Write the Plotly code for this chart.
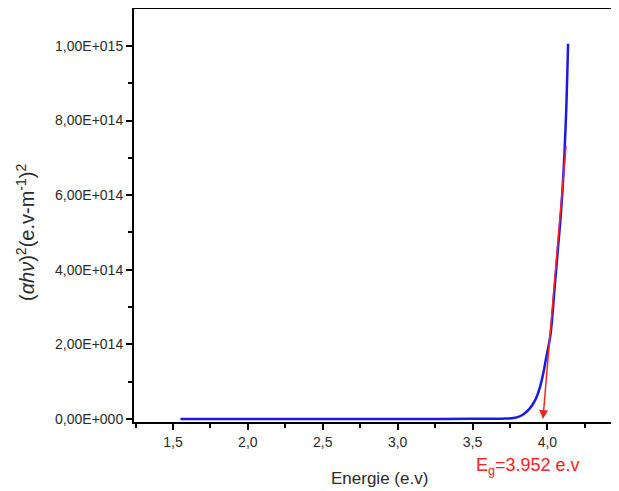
import plotly.graph_objects as go

# Data
energy = [1.55, 1.8, 2.0, 2.3, 2.6, 2.9, 3.2, 3.5, 3.7, 3.76, 3.80, 3.84, 3.88, 3.92, 3.95, 3.97,
          3.99, 4.02, 4.05, 4.07, 4.09, 4.11, 4.125, 4.138]
alpha_hv2 = [0.0, 0.0, 0.0, 0.0, 0.0, 0.0, 0.0, 0.001e15, 0.001e15, 0.002e15, 0.005e15, 0.013e15,
             0.027e15, 0.052e15, 0.085e15, 0.118e15, 0.16e15, 0.225e15, 0.36e15, 0.455e15,
             0.55e15, 0.68e15, 0.82e15, 1.006e15]

fit_x = [4.125, 3.97]
fit_y = [7.36e14, 0.0]
band_gap = 3.952

x_range = [1.24, 4.478]
x_ticks = [1.5, 2.0, 2.5, 3.0, 3.5, 4.0, 4.5]
x_ticktext = ["1,5", "2,0", "2,5", "3,0", "3,5", "4,0", "4,5"]
y_ticks = [0, 2e14, 4e14, 6e14, 8e14, 1e15]
y_ticktext = ["0,00E+000", "2,00E+014", "4,00E+014", "6,00E+014", "8,00E+014", "1,00E+015"]

FONT = "Arial, Liberation Sans, sans-serif"
TXT = "#2a2a2a"

fig = go.Figure()
fig.add_trace(go.Scatter(x=energy, y=alpha_hv2, mode="lines",
                         line=dict(color="#1a1ae6", width=2.5, shape="spline"),
                         showlegend=False))

# fit line with arrow down to the band gap
fig.add_annotation(x=fit_x[1], y=fit_y[1], ax=fit_x[0], ay=fit_y[0],
                   xref="x", yref="y", axref="x", ayref="y",
                   showarrow=True, arrowhead=2, arrowsize=1.2, arrowwidth=1.5,
                   arrowcolor="#ff2020", text="")

# last tick label, cut by the right edge
last_frac = (x_ticks[-1] - x_range[0]) / (x_range[1] - x_range[0])
fig.add_annotation(x=last_frac, y=0, xref="paper", yref="paper", yshift=-21,
                   xanchor="center", yanchor="middle",
                   text=x_ticktext[-1], showarrow=False,
                   font=dict(family=FONT, size=14, color=TXT))

# band gap label
fig.add_annotation(x=band_gap, y=0, xref="x", yref="paper", yshift=-44, xshift=-12,
                   xanchor="center", yanchor="middle",
                   text="E<sub>g</sub>=3.952 e.v", showarrow=False,
                   font=dict(family=FONT, size=18, color="#ff2020"))

# x title
fig.add_annotation(x=(379 - 134) / (619 - 134), y=0, xref="paper", yref="paper", yshift=-56,
                   xanchor="center", yanchor="middle",
                   text="Energie (e.v)", showarrow=False,
                   font=dict(family=FONT, size=17, color=TXT))

# y title
fig.add_annotation(x=0, y=(421 - 232) / 413, xref="paper", yref="paper", xshift=-109,
                   xanchor="center", yanchor="middle", textangle=-90,
                   text="(<i>αhν</i>)<sup>2</sup>(e.v-m<sup>-1</sup>)<sup>2</sup>", showarrow=False,
                   font=dict(family=FONT, size=20, color=TXT))

# the page body adds 8px around the figure, so the figure is 8px smaller
fig.update_layout(
    width=611, height=484,
    margin=dict(l=126, r=0, t=1, b=70, autoexpand=False),
    paper_bgcolor="white", plot_bgcolor="white",
    font=dict(family=FONT, size=14, color=TXT),
    xaxis=dict(range=x_range, tickvals=x_ticks, ticktext=x_ticktext, automargin=False,
               showline=True, linecolor="black", linewidth=2, mirror=True,
               ticks="outside", ticklen=6, tickwidth=2, tickcolor="black",
               minor=dict(dtick=0.25, tick0=1.25, ticks="outside", ticklen=4, tickwidth=2, tickcolor="black"),
               showgrid=False, zeroline=False, tickfont=dict(size=14)),
    yaxis=dict(range=[-8e12, 1.099e15], tickvals=y_ticks, ticktext=y_ticktext, automargin=False,
               showline=True, linecolor="black", linewidth=2,
               ticks="outside", ticklen=6, tickwidth=2, tickcolor="black",
               minor=dict(dtick=1e14, tick0=0, ticks="outside", ticklen=4, tickwidth=2, tickcolor="black"),
               showgrid=False, zeroline=False, tickfont=dict(size=14)),
)

fig.write_html("out.html")
